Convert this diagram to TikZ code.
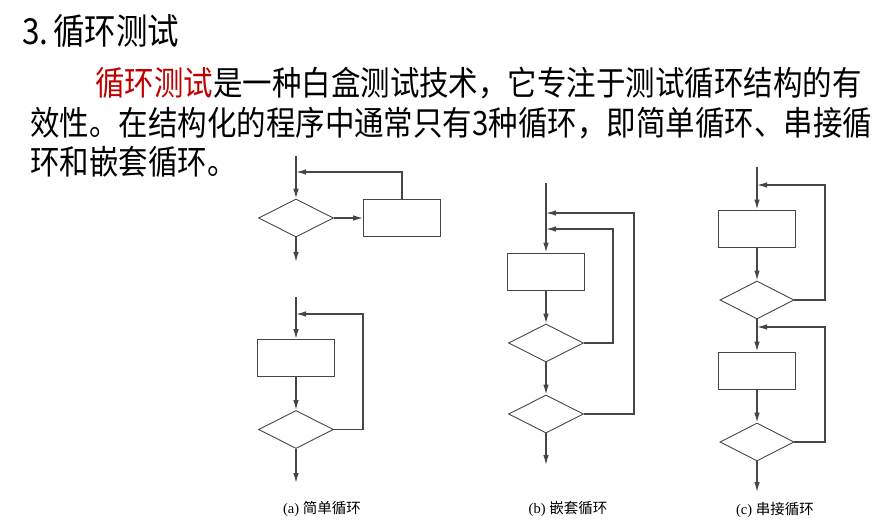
\documentclass[tikz,border=0pt]{standalone}
\usepackage{fontspec}
\setmainfont{Liberation Serif}
\newfontfamily\cjk[FakeStretch=0.88]{Noto Sans CJK SC}
\newfontfamily\cjkcap{Noto Sans CJK SC}
\usetikzlibrary{shapes.geometric,arrows.meta}
\definecolor{lred}{RGB}{192,0,0}
\definecolor{lgray}{RGB}{70,70,70}
\tikzset{
  procbox/.style={draw=lgray, line width=0.9pt, rectangle, minimum width=77pt, minimum height=37pt, inner sep=0pt},
  decision/.style={draw=lgray, line width=0.9pt, diamond, minimum width=75pt, minimum height=38pt, inner sep=0pt},
  flow/.style={draw=lgray, line width=1.2pt, -{Latex[length=10pt,width=5.5pt]}},
  bodytext/.style={anchor=base west, inner sep=0pt, font=\fontsize{33.5}{34}\cjk},
  captext/.style={inner sep=0pt, font=\fontsize{14.5}{15}\selectfont},
}
\begin{document}
\begin{tikzpicture}[x=1pt,y=-1pt]
\fill[white] (0,0) rectangle (891,521);
\useasboundingbox (0,0) rectangle (891,521);

% texts
\node[anchor=base west, inner sep=0pt, font=\fontsize{35.8}{36}\cjk] (title) at (22,44.6) {3.\hspace{5pt}循环测试};
\node[bodytext] (l1) at (95,96) {\textcolor{lred}{循环测试}是一种白盒测试技术，它专注于测试循环结构的有};
\node[bodytext] (l2) at (30,136) {效性。在结构化的程序中通常只有3种循环，即简单循环、串接循};
\node[bodytext] (l3) at (30,175) {环和嵌套循环。};

% (a) upper
\coordinate (a1top) at (296,156);
\coordinate (a1j) at (296,172);
\coordinate (a1end) at (296,262);
\node[decision] (a1d) at (296,218) {};
\node[procbox] (a1b) at (402,218) {};
\draw[flow] (a1top) -- (a1d.north);
\draw[flow] (a1d.east) -- (a1b.west);
\draw[flow] (a1b.north) |- (a1j);
\draw[flow] (a1d.south) -- (a1end);

% (a) lower
\coordinate (a2top) at (296,297);
\coordinate (a2j) at (296,314);
\coordinate (a2r) at (363,314);
\coordinate (a2end) at (296,483);
\node[procbox] (a2b) at (296,358) {};
\node[decision] (a2d) at (296,429.5) {};
\draw[flow] (a2top) -- (a2b.north);
\draw[flow] (a2b.south) -- (a2d.north);
\draw[flow] (a2d.east) -| (a2r) -- (a2j);
\draw[flow] (a2d.south) -- (a2end);

% (b) nested
\coordinate (btop) at (546,183);
\coordinate (bj1) at (546,213);
\coordinate (bj2) at (546,229);
\coordinate (bro) at (634,213);
\coordinate (bri) at (613,229);
\coordinate (bend) at (546,465);
\node[procbox] (bb) at (546,271.5) {};
\node[decision] (bd1) at (546,343) {};
\node[decision] (bd2) at (546,414) {};
\draw[flow] (btop) -- (bb.north);
\draw[flow] (bb.south) -- (bd1.north);
\draw[flow] (bd1.south) -- (bd2.north);
\draw[flow] (bd1.east) -| (bri) -- (bj2);
\draw[flow] (bd2.east) -| (bro) -- (bj1);
\draw[flow] (bd2.south) -- (bend);

% (c) concatenated
\coordinate (ctop) at (757,167);
\coordinate (cj1) at (757,185);
\coordinate (cj2) at (757,327);
\coordinate (cr1) at (825,185);
\coordinate (cr2) at (825,327);
\coordinate (cend) at (757,492);
\node[procbox] (cb1) at (757,228.5) {};
\node[decision, minimum width=74pt] (cd1) at (757,300) {};
\node[procbox] (cb2) at (757,370.5) {};
\node[decision, minimum width=74pt] (cd2) at (757,442) {};
\draw[flow] (ctop) -- (cb1.north);
\draw[flow] (cb1.south) -- (cd1.north);
\draw[flow] (cd1.east) -| (cr1) -- (cj1);
\draw[flow] (cd1.south) -- (cb2.north);
\draw[flow] (cb2.south) -- (cd2.north);
\draw[flow] (cd2.east) -| (cr2) -- (cj2);
\draw[flow] (cd2.south) -- (cend);

% captions
\node[captext] (capa) at (322,509) {(a) {\cjkcap 简单循环}};
\node[captext] (capb) at (568,509) {(b) {\cjkcap 嵌套循环}};
\node[captext] (capc) at (775,510) {(c) {\cjkcap 串接循环}};
\end{tikzpicture}
\end{document}
